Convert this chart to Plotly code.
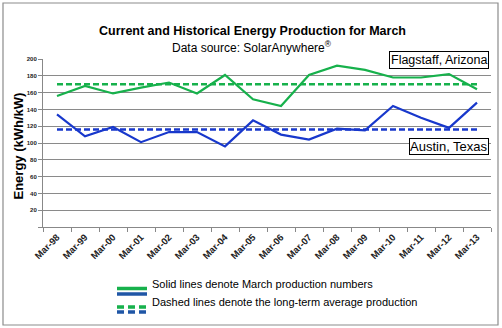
import plotly.graph_objects as go

categories = ["Mar-98", "Mar-99", "Mar-00", "Mar-01", "Mar-02", "Mar-03", "Mar-04", "Mar-05",
              "Mar-06", "Mar-07", "Mar-08", "Mar-09", "Mar-10", "Mar-11", "Mar-12", "Mar-13"]
flagstaff = [156, 168, 159, 166, 172, 159, 181, 152, 144, 181, 192, 187, 178, 178, 182, 164]
austin = [134, 108, 119, 101, 113, 113, 96, 127, 110, 104, 117, 115, 144, 130, 118, 148]
flagstaff_avg = [170] * len(categories)
austin_avg = [116] * len(categories)
y_ticks = [0, 20, 40, 60, 80, 100, 120, 140, 160, 180, 200]

GREEN = "#17B14C"
BLUE = "#1838CC"
LEG_BLUE = "#1F56A6"

# layout geometry (pixels)
W, H = 502, 328
L, R, T, B = 43, 11, 59, 101
PW = W - L - R
PH = H - T - B


def px(x):
    return (x - L) / PW


def py(y):
    return (H - B - y) / PH


fig = go.Figure()
fig.add_trace(go.Scatter(x=categories, y=flagstaff_avg, mode="lines",
                         line=dict(color=GREEN, width=2.5, dash="6px,3px"), hoverinfo="skip"))
fig.add_trace(go.Scatter(x=categories, y=austin_avg, mode="lines",
                         line=dict(color=BLUE, width=2.5, dash="6px,3px"), hoverinfo="skip"))
fig.add_trace(go.Scatter(x=categories, y=flagstaff, mode="lines",
                         line=dict(color=GREEN, width=2.2)))
fig.add_trace(go.Scatter(x=categories, y=austin, mode="lines",
                         line=dict(color=BLUE, width=2.2)))

shapes = [
    # outer chart border
    dict(type="rect", xref="paper", yref="paper", x0=px(3), x1=px(498), y0=py(325), y1=py(3),
         line=dict(color="#8C8C8C", width=1.2), fillcolor="rgba(0,0,0,0)", layer="below"),
    # legend symbols
    dict(type="line", xref="paper", yref="paper", x0=px(117), x1=px(147), y0=py(288.5), y1=py(288.5),
         line=dict(color=GREEN, width=3.5)),
    dict(type="line", xref="paper", yref="paper", x0=px(117), x1=px(147), y0=py(294), y1=py(294),
         line=dict(color=LEG_BLUE, width=3.5)),
    dict(type="line", xref="paper", yref="paper", x0=px(117), x1=px(147), y0=py(307), y1=py(307),
         line=dict(color=GREEN, width=3.5, dash="7px,4px")),
    dict(type="line", xref="paper", yref="paper", x0=px(117), x1=px(147), y0=py(312), y1=py(312),
         line=dict(color=LEG_BLUE, width=3.5, dash="7px,4px")),
]

annotations = [
    dict(text="<b>Current and Historical Energy Production for March</b>", xref="paper", yref="paper",
         x=px(252), y=py(22), showarrow=False, font=dict(size=12.5, color="#000")),
    dict(text="Data source: SolarAnywhere<sup>®</sup>", xref="paper", yref="paper",
         x=px(252), y=py(37), showarrow=False, font=dict(size=12, color="#000")),
    dict(text="<b>Energy (kWh/kW)</b>", xref="paper", yref="paper", x=px(8), y=py(146),
         textangle=-90, showarrow=False, font=dict(size=13, color="#000")),
    dict(text="Flagstaff, Arizona", xref="paper", yref="paper", x=px(439), y=py(59.5),
         xanchor="center", yanchor="middle",
         showarrow=False, font=dict(size=12.5, color="#000"), bgcolor="white",
         bordercolor="black", borderwidth=1, borderpad=1),
    dict(text="Austin, Texas", xref="paper", yref="paper", x=px(449), y=py(146.7),
         xanchor="center", yanchor="middle",
         showarrow=False, font=dict(size=13, color="#000"), bgcolor="white",
         bordercolor="black", borderwidth=1, borderpad=0),
    dict(text="Solid lines denote March production numbers", xref="paper", yref="paper",
         x=px(150), y=py(291.5), xanchor="left", showarrow=False, font=dict(size=11, color="#000")),
    dict(text="Dashed lines denote the long-term average production", xref="paper", yref="paper",
         x=px(150), y=py(310), xanchor="left", showarrow=False, font=dict(size=11, color="#000")),
]

fig.update_layout(
    width=W, height=H,
    margin=dict(l=L, r=R, t=T, b=B),
    paper_bgcolor="white", plot_bgcolor="white",
    showlegend=False,
    font=dict(family="Liberation Sans, Arial, sans-serif", color="#000"),
    shapes=shapes, annotations=annotations,
    xaxis=dict(type="category", tickson="boundaries", ticks="outside", ticklen=4, tickcolor="#888",
               tickvals=categories, ticktext=["<b>" + c + "</b>" for c in categories],
               showline=True, linecolor="#888", linewidth=1, showgrid=False, tickangle=-45,
               tickfont=dict(size=9.5, color="#222", family="Liberation Sans, Arial"),
               range=[-0.5, len(categories) - 0.5]),
    yaxis=dict(range=[0, 200], tickvals=y_ticks,
               ticktext=["" if v == 0 else "<b>" + str(v) + "</b>" for v in y_ticks],
               ticks="outside", ticklen=4, tickcolor="#888",
               showline=True, linecolor="#888", linewidth=1, showgrid=True, gridcolor="#8A8A8A",
               gridwidth=1, zeroline=False, tickfont=dict(size=6, color="#222")),
)

fig.write_html("out.html")
